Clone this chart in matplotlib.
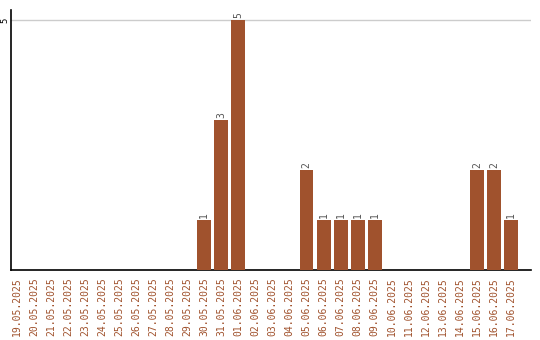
import matplotlib.pyplot as plt

dates = ['19.05.2025', '20.05.2025', '21.05.2025', '22.05.2025', '23.05.2025',
         '24.05.2025', '25.05.2025', '26.05.2025', '27.05.2025', '28.05.2025',
         '29.05.2025', '30.05.2025', '31.05.2025', '01.06.2025', '02.06.2025',
         '03.06.2025', '04.06.2025', '05.06.2025', '06.06.2025', '07.06.2025',
         '08.06.2025', '09.06.2025', '10.06.2025', '11.06.2025', '12.06.2025',
         '13.06.2025', '14.06.2025', '15.06.2025', '16.06.2025', '17.06.2025']
counts = [0, 0, 0, 0, 0, 0, 0, 0, 0, 0, 0, 1, 3, 5, 0, 0, 0, 2, 1, 1,
          1, 1, 0, 0, 0, 0, 0, 2, 2, 1]

bar_color = '#a0522d'

fig = plt.figure(figsize=(5.4, 3.4), dpi=100)
ax = fig.add_axes([11 / 540, 70 / 340, 520 / 540, 260 / 340])

x = list(range(len(dates)))
bars = ax.bar(x, counts, width=0.82, color=bar_color, zorder=3)
for xi, c in zip(x, counts):
    if c > 0:
        ax.text(xi, c + 0.04, str(c), rotation=90, ha='center', va='bottom',
                fontsize=7, family='DejaVu Sans Mono', color='#555555')

ax.set_xlim(-0.35, 30.18)
ax.set_ylim(0, 5.2)
ax.set_yticks([5])
ax.set_yticklabels(['5'], rotation=90, va='center', fontsize=6.5,
                   family='DejaVu Sans Mono')
ax.set_xticks(x)
ax.set_xticklabels(dates, rotation=90, fontsize=7, family='DejaVu Sans Mono',
                   color=bar_color)
ax.tick_params(axis='both', length=0)
ax.tick_params(axis='x', pad=5)
ax.tick_params(axis='y', pad=1)
ax.grid(axis='y', color='#cccccc', linewidth=1, zorder=0)
for s in ['top', 'right']:
    ax.spines[s].set_visible(False)
ax.spines['left'].set_linewidth(1.2)
ax.spines['bottom'].set_linewidth(1.2)

fig.savefig('out.png', dpi=100)
